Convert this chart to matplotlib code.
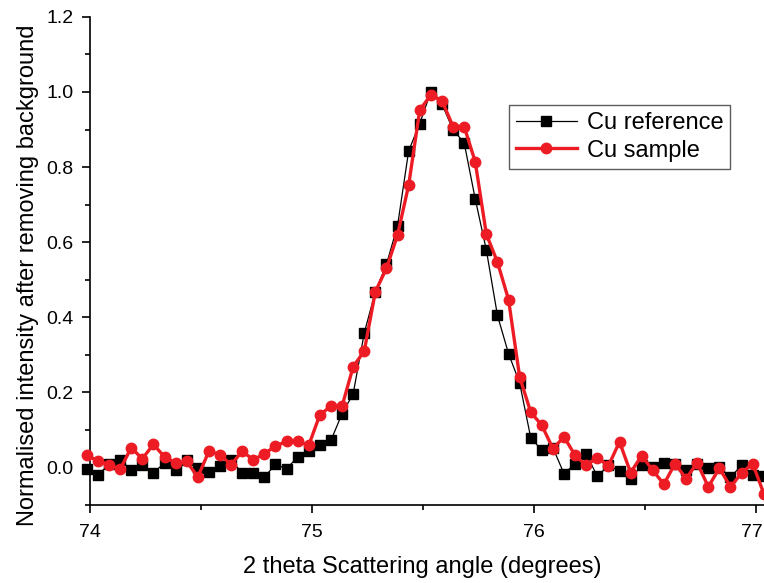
import matplotlib
matplotlib.use("Agg")
import matplotlib.pyplot as plt
import matplotlib.transforms as mtransforms
from matplotlib.ticker import MultipleLocator

plt.rcParams['font.family'] = ['Liberation Sans', 'DejaVu Sans']

# 2 theta sampling (degrees), step 0.05
two_theta = [73.985, 74.035, 74.085, 74.135, 74.185, 74.235, 74.285, 74.335,
             74.385, 74.435, 74.485, 74.535, 74.585, 74.635, 74.685, 74.735,
             74.785, 74.835, 74.885, 74.935, 74.985, 75.035, 75.085, 75.135,
             75.185, 75.235, 75.285, 75.335, 75.385, 75.435, 75.485, 75.535,
             75.585, 75.635, 75.685, 75.735, 75.785, 75.835, 75.885, 75.935,
             75.985, 76.035, 76.085, 76.135, 76.185, 76.235, 76.285, 76.335,
             76.385, 76.435, 76.485, 76.535, 76.585, 76.635, 76.685, 76.735,
             76.785, 76.835, 76.885, 76.935, 76.985, 77.035]

cu_reference = [-0.004, -0.020, 0.008, 0.019, -0.006, 0.007, -0.015, 0.012,
                -0.006, 0.020, -0.002, -0.012, 0.004, 0.019, -0.015, -0.015,
                -0.026, 0.008, -0.004, 0.028, 0.043, 0.060, 0.072, 0.143,
                0.196, 0.358, 0.468, 0.541, 0.644, 0.843, 0.916, 1.000,
                0.968, 0.899, 0.865, 0.715, 0.579, 0.405, 0.303, 0.225,
                0.079, 0.045, 0.052, -0.017, 0.010, 0.036, -0.024, 0.005,
                -0.010, -0.030, 0.005, 0.001, 0.012, 0.008, -0.006, 0.008,
                -0.002, 0.000, -0.026, 0.005, -0.020, -0.022]

cu_sample = [0.032, 0.017, 0.007, -0.005, 0.052, 0.023, 0.061, 0.028,
             0.012, 0.016, -0.026, 0.043, 0.034, 0.007, 0.043, 0.020,
             0.036, 0.057, 0.069, 0.069, 0.059, 0.140, 0.163, 0.163,
             0.268, 0.310, 0.468, 0.530, 0.619, 0.752, 0.952, 0.992,
             0.977, 0.908, 0.908, 0.814, 0.621, 0.547, 0.447, 0.241,
             0.147, 0.112, 0.050, 0.081, 0.032, 0.005, 0.026, 0.004,
             0.068, -0.014, 0.031, -0.008, -0.045, 0.010, -0.030, 0.012,
             -0.052, -0.002, -0.052, -0.015, 0.010, -0.070]

x_ticks = [74, 75, 76, 77]

fig = plt.figure(figsize=(7.64, 5.83), dpi=100)
ax = fig.add_axes([0.118, 0.134, 0.882, 0.837])

ax.plot(two_theta, cu_reference, '-s', color='black', lw=0.9, ms=7,
        label='Cu reference', clip_on=False, zorder=3)
ax.plot(two_theta, cu_sample, '-o', color='#ed1c24', lw=2.4, ms=7.5,
        label='Cu sample', clip_on=False, zorder=4)

ax.set_xlim(74, 77.036)
ax.set_ylim(-0.1, 1.2)
ax.set_xticks(x_ticks)
ax.xaxis.set_minor_locator(MultipleLocator(0.5))
ax.yaxis.set_major_locator(MultipleLocator(0.2))
ax.yaxis.set_minor_locator(MultipleLocator(0.1))
ax.yaxis.set_major_formatter(matplotlib.ticker.FormatStrFormatter('%.1f'))

for s in ['top', 'right']:
    ax.spines[s].set_visible(False)
for s in ['left', 'bottom']:
    ax.spines[s].set_linewidth(1.2)

ax.tick_params(which='major', direction='out', length=6, width=1.2,
               labelsize=14, pad=6)
ax.tick_params(axis='x', which='major', pad=8)
ax.tick_params(which='minor', direction='out', length=3.5, width=1.2)

# last tick label sits on the figure edge, nudge it in a little
last = ax.get_xticklabels()[-1]
last.set_transform(last.get_transform() +
                   mtransforms.ScaledTranslation(-3 / 72, 0, fig.dpi_scale_trans))

ax.set_xlabel('2 theta Scattering angle (degrees)', fontsize=17)
ax.set_ylabel('Normalised intensity after removing background', fontsize=17)
ax.xaxis.set_label_coords(0.493, -0.105)
ax.yaxis.set_label_coords(-0.076, 0.47)

leg = ax.legend(loc='upper right', bbox_to_anchor=(0.95, 0.82),
                borderaxespad=0, fontsize=17, fancybox=False,
                edgecolor='#333333', handlelength=2.6, labelspacing=0.25,
                borderpad=0.3, handletextpad=0.4)
leg.get_frame().set_linewidth(1.0)

fig.savefig('out.png', dpi=100)
